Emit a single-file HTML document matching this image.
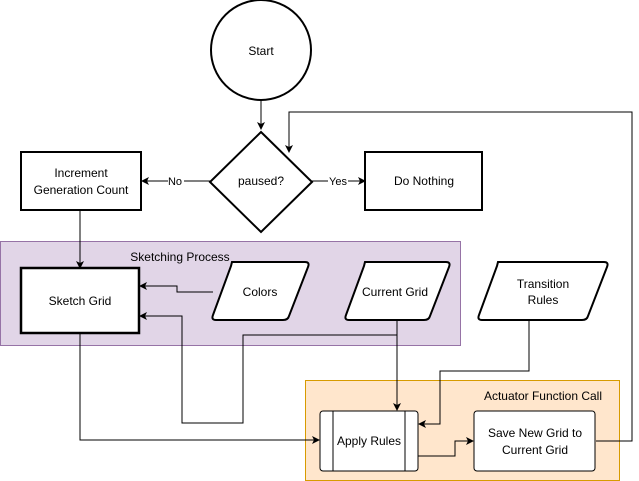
<!DOCTYPE html>
<html><head><style>body{margin:0;background:#fff}svg{display:block}text{font-family:"Liberation Sans",sans-serif;font-size:12px;fill:#000}</style></head><body>
<svg width="639" height="481" viewBox="0 0 639 481">
<defs><marker id="a" markerWidth="8" markerHeight="8" refX="7" refY="4" orient="auto" markerUnits="userSpaceOnUse"><path d="M0,0 L8,4 L0,8 L2,4Z" fill="#000"/></marker></defs>
<rect x="0.5" y="241.5" width="460" height="104" fill="#e1d5e7" stroke="#9673a6"/>
<text x="180" y="261" text-anchor="middle">Sketching Process</text>
<rect x="305.5" y="380.5" width="314" height="100" fill="#ffe6cc" stroke="#d79b00"/>
<text x="602" y="400" text-anchor="end">Actuator Function Call</text>
<g stroke="#000" fill="none" stroke-width="1">
<path d="M261,101 V129" marker-end="url(#a)"/>
<path d="M211,181 H142" marker-end="url(#a)"/>
<path d="M312,181 H365" marker-end="url(#a)"/>
<path d="M80,211 V268" marker-end="url(#a)"/>
<path d="M213,292 H177 V286 H140" marker-end="url(#a)"/>
<path d="M397,321 V335 H243 V423 H182 V316 H140" marker-end="url(#a)"/>
<path d="M397,321 V410" marker-end="url(#a)"/>
<path d="M529,321 V371 H440 V424 H419" marker-end="url(#a)"/>
<path d="M80,334 V440 H319" marker-end="url(#a)"/>
<path d="M418,456 H455 V441 H473" marker-end="url(#a)"/>
<path d="M596,441 H632 V112 H289 V152" marker-end="url(#a)"/>
</g>
<rect x="168" y="174" width="16" height="14" fill="#fff"/><text x="175" y="185" text-anchor="middle" style="font-size:11px">No</text>
<rect x="328" y="174" width="20" height="14" fill="#fff"/><text x="338" y="185" text-anchor="middle" style="font-size:11px">Yes</text>
<g stroke="#000" stroke-width="2" fill="#fff">
<circle cx="261" cy="50" r="50"/>
<path d="M261,132 L312,182 L261,232 L210,182Z"/>
<rect x="21" y="152" width="120" height="58"/>
<rect x="365" y="152" width="117" height="58"/>
<rect x="21" y="268" width="118" height="65" stroke-width="2.5"/>
<path d="M232,262 H305 Q310,262 308,267 L289,316 Q288,320 283,320 H216 Q211,320 213,315 L231,266Z"/>
<path d="M365,262 H446 Q451,262 449,267 L430,316 Q429,320 424,320 H349 Q344,320 346,315 L364,266Z"/>
<path d="M498,262 H604 Q609,262 607,267 L588,316 Q587,320 582,320 H482 Q477,320 479,315 L497,266Z"/>
</g>
<g stroke="#000" stroke-width="1" fill="#fff">
<rect x="320" y="411" width="98" height="60" rx="3"/>
<path d="M333,411 V471 M405,411 V471"/>
<rect x="474" y="411" width="121" height="60" rx="3"/>
</g>
<text x="261" y="55" text-anchor="middle">Start</text>
<text x="261" y="185" text-anchor="middle">paused?</text>
<text x="81" y="177" text-anchor="middle">Increment</text>
<text x="81" y="194" text-anchor="middle">Generation Count</text>
<text x="424" y="185" text-anchor="middle">Do Nothing</text>
<text x="80" y="305" text-anchor="middle">Sketch Grid</text>
<text x="260" y="296" text-anchor="middle">Colors</text>
<text x="395" y="296" text-anchor="middle">Current Grid</text>
<text x="543" y="288" text-anchor="middle">Transition</text>
<text x="543" y="304" text-anchor="middle">Rules</text>
<text x="369" y="445" text-anchor="middle">Apply Rules</text>
<text x="535" y="437" text-anchor="middle">Save New Grid to</text>
<text x="535" y="454" text-anchor="middle">Current Grid</text>
</svg></body></html>
